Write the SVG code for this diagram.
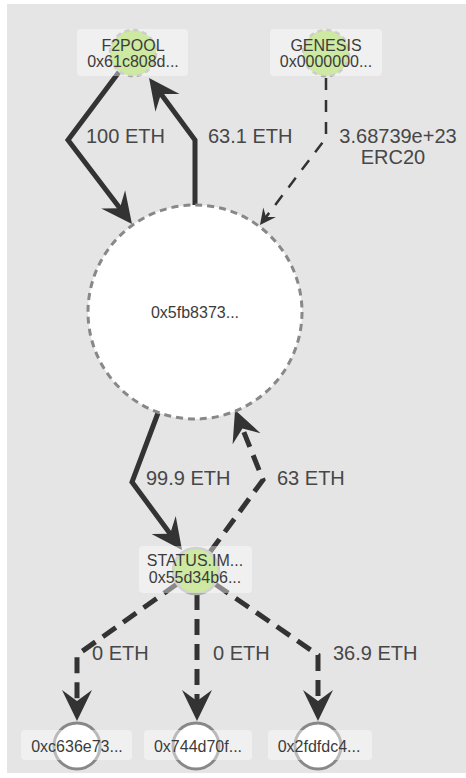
<svg xmlns="http://www.w3.org/2000/svg" width="466" height="778" viewBox="0 0 466 778">
<style>
.bg{fill:#e5e5e5}
.e{fill:none;stroke:#333;stroke-width:5;stroke-linejoin:miter}
.ed{fill:none;stroke:#333;stroke-width:5;stroke-dasharray:16 9}
.et{fill:none;stroke:#333;stroke-width:2.5;stroke-dasharray:12 10}
.el{font-family:"Liberation Sans",Arial,sans-serif;font-size:20px;fill:#474747}
.nl{font-family:"Liberation Sans",Arial,sans-serif;font-size:16px;fill:#3c3c3c;text-anchor:middle}
.box{fill:#fff;fill-opacity:0.42}
.g{fill:#a9d95f;stroke:#aaa;stroke-width:2.5;stroke-dasharray:5 4}
.gs{fill:#a9d95f;stroke:#b0b0b0;stroke-width:2.5}
.w{fill:#fff;stroke:#888;stroke-width:3}
.big{fill:#fff;stroke:#888;stroke-width:3;stroke-dasharray:7 5}
</style>
<defs>
<marker id="ah" markerUnits="userSpaceOnUse" viewBox="-32 -16 34 32" markerWidth="34" markerHeight="32" refX="-12" refY="0" orient="auto">
<path d="M0,0 L-31,-15 L-20,0 L-31,15 Z" fill="#333"/>
</marker>
<marker id="ahs" markerUnits="userSpaceOnUse" viewBox="-18 -9 20 18" markerWidth="20" markerHeight="18" refX="-5" refY="0" orient="auto">
<path d="M0,0 L-16,-8 L-10,0 L-16,8 Z" fill="#333"/>
</marker>
</defs>
<rect class="bg" x="7" y="4" width="459" height="769"/>
<g id="edges">
<path class="e" d="M119,72 L68,140 L124.7,214.5" marker-end="url(#ah)"/>
<path class="e" d="M195,205 L195,140 L156.2,87.6" marker-end="url(#ah)"/>
<path class="et" d="M326,78 L326,138 L263,221" marker-end="url(#ahs)"/>
<path class="e" d="M158,413 L132,482 L174.9,540.3" marker-end="url(#ah)"/>
<path class="ed" d="M210,552 L263,480 L239.5,421.1" marker-end="url(#ah)"/>
<path class="ed" d="M177,584 L77,655 L77,709" marker-end="url(#ah)"/>
<path class="ed" d="M197,594 L197,709" marker-end="url(#ah)"/>
<path class="ed" d="M215,584 L318,655 L318,709" marker-end="url(#ah)"/>
<text class="el" x="86" y="143">100 ETH</text>
<text class="el" x="208" y="143">63.1 ETH</text>
<text class="el" x="398" y="143" text-anchor="middle">3.68739e+23</text>
<text class="el" x="393" y="164" text-anchor="middle">ERC20</text>
<text class="el" x="146" y="485">99.9 ETH</text>
<text class="el" x="277" y="485">63 ETH</text>
<text class="el" x="92" y="660">0 ETH</text>
<text class="el" x="213" y="660">0 ETH</text>
<text class="el" x="333" y="660">36.9 ETH</text>
</g>
<g id="center">
<circle class="big" cx="195" cy="312" r="107"/>
<text class="nl" x="195" y="318">0x5fb8373...</text>
</g>
<g id="f2pool">
<circle class="g" cx="133" cy="53" r="23"/>
<rect class="box" x="77" y="29" width="111" height="47" rx="4"/>
<text class="nl" x="133" y="51">F2POOL</text>
<text class="nl" x="133" y="67">0x61c808d...</text>
</g>
<g id="genesis">
<circle class="g" cx="326" cy="53" r="23"/>
<rect class="box" x="270" y="29" width="112" height="47" rx="4"/>
<text class="nl" x="326" y="51">GENESIS</text>
<text class="nl" x="326" y="67">0x0000000...</text>
</g>
<g id="status">
<circle class="gs" cx="196" cy="571" r="23"/>
<rect class="box" x="139" y="546" width="113" height="47" rx="4"/>
<text class="nl" x="195" y="566">STATUS.IM...</text>
<text class="nl" x="195" y="583">0x55d34b6...</text>
</g>
<g id="n1">
<circle class="w" cx="77" cy="746" r="23"/>
<rect class="box" x="21" y="730" width="111" height="30" rx="4"/>
<text class="nl" x="77" y="752">0xc636e73...</text>
</g>
<g id="n2">
<circle class="w" cx="196" cy="746" r="23"/>
<rect class="box" x="144" y="730" width="108" height="30" rx="4"/>
<text class="nl" x="198" y="752">0x744d70f...</text>
</g>
<g id="n3">
<circle class="w" cx="318" cy="746" r="23"/>
<rect class="box" x="268" y="730" width="104" height="30" rx="4"/>
<text class="nl" x="319" y="752">0x2fdfdc4...</text>
</g>
</svg>
